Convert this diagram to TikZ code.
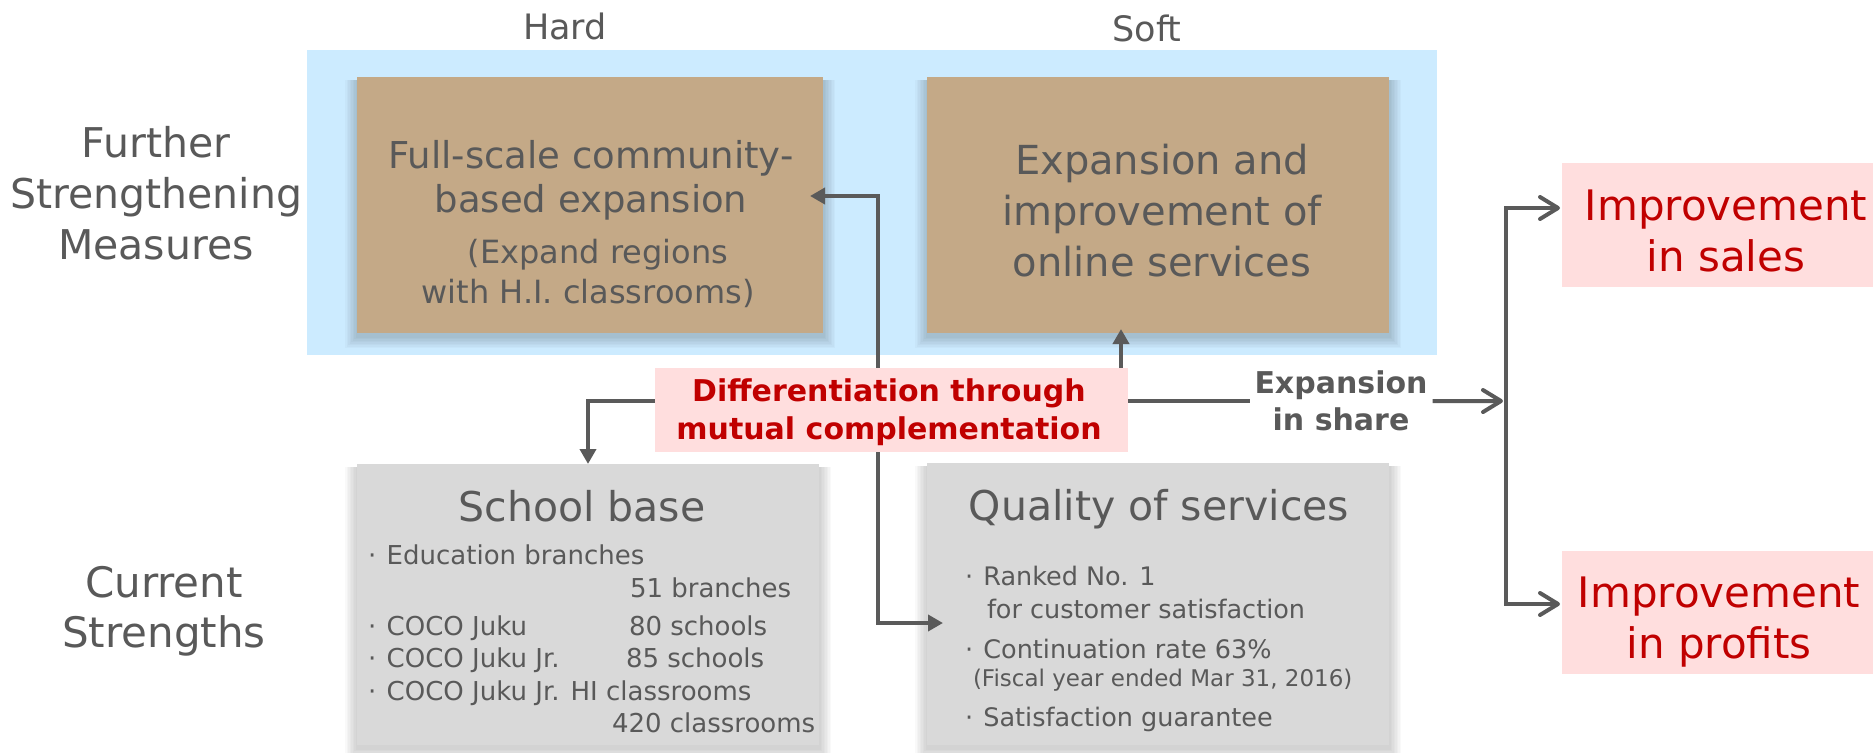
\documentclass[tikz,border=0pt]{standalone}
\usepackage{fontspec}
\setmainfont{DejaVu Sans}
\usetikzlibrary{arrows.meta}

\definecolor{txtgray}{HTML}{595959}
\definecolor{linegray}{HTML}{5A5A5A}
\definecolor{skyfill}{HTML}{CCEBFF}
\definecolor{tanfill}{HTML}{C4A987}
\definecolor{greyfill}{HTML}{D9D9D9}
\definecolor{pinkfill}{HTML}{FFDEDE}
\definecolor{darkred}{HTML}{C00000}

\pgfdeclarelayer{background}
\pgfdeclarelayer{shadow}
\pgfdeclarelayer{front}
\pgfsetlayers{background,shadow,main,front}

\newcommand{\fsz}[2]{\fontsize{#1}{#2}\selectfont}
\newcommand{\dotitem}{\makebox[0.72em][l]{·}}
% soft shadow under a panel, built from stacked translucent rectangles
\newcommand{\softshadow}[1]{%
  \foreach \k in {1,...,8}{%
    \fill[black,opacity=0.025] ([shift={(-1.5*\k,3+1.5*\k)}]#1.south west)
      rectangle ([shift={(1.5*\k,3)}]#1.north east);}}

\tikzset{
  panel/.style={rectangle, inner sep=0pt, outer sep=0pt},
  txt/.style={inner sep=0pt, outer sep=0pt, text=txtgray, align=center},
  conn/.style={draw=linegray, line width=4pt},
  tri/.tip={Triangle[length=15pt,width=16pt]},
  barb/.tip={Straight Barb[length=18pt,width=22pt,round]},
}

\begin{document}
\begin{tikzpicture}[x=1pt,y=-1pt]
\useasboundingbox (0,0) rectangle (1873,752);

% region of further measures
\begin{pgfonlayer}{background}
  \node[panel, fill=skyfill, minimum width=1130pt, minimum height=305pt] (measures) at (872,202.5) {};
\end{pgfonlayer}

% panels
\node[panel, fill=tanfill, minimum width=466pt, minimum height=256pt] (hard) at (590,205) {};
\node[panel, fill=tanfill, minimum width=462pt, minimum height=256pt] (soft) at (1158,205) {};
\node[panel, fill=greyfill, minimum width=462pt, minimum height=281pt] (school) at (588,604.5) {};
\node[panel, fill=greyfill, minimum width=462pt, minimum height=282pt] (quality) at (1158,604) {};
\node[panel, fill=pinkfill, minimum width=311pt, minimum height=124pt] (sales) at (1717.5,225) {};
\node[panel, fill=pinkfill, minimum width=311pt, minimum height=123pt] (profits) at (1717.5,612.5) {};

\begin{pgfonlayer}{shadow}
  \softshadow{hard}
  \softshadow{soft}
  \softshadow{school}
  \softshadow{quality}
\end{pgfonlayer}

% central label, drawn above the connectors that pass behind it
\begin{pgfonlayer}{front}
  \node[panel, fill=pinkfill, minimum width=473pt, minimum height=84pt] (diff) at (891.5,410) {};
  \node[txt, anchor=north, text=darkred, font=\bfseries\fsz{30}{38}] (difftext) at (889,379)
    {Differentiation through\\mutual complementation};
\end{pgfonlayer}

% column and row headings
\node[txt, font=\fsz{35}{42}, anchor=base] (hardlbl) at (565,40) {Hard};
\node[txt, font=\fsz{35}{42}, anchor=base] (softlbl) at (1147,42) {Soft};
\node[txt, font=\fsz{41}{51}, anchor=north] (further) at (156,126) {Further\\Strengthening\\Measures};
\node[txt, font=\fsz{42}{50}, anchor=north] (current) at (164,566) {Current\\Strengths};

% panel texts
\node[txt, font=\fsz{37}{44}, anchor=north] (hardtitle) at (591,140) {Full-scale community-\\based expansion};
\node[txt, font=\fsz{32}{40}, anchor=north] (hardsub) at (588,239) {\hspace*{20pt}(Expand regions\\with H.I. classrooms)};
\node[txt, font=\fsz{40}{51}, anchor=north] (softtitle) at (1162,144) {Expansion and\\improvement of\\online services};

\node[txt, font=\fsz{41}{48}, anchor=base] (schooltitle) at (582,521) {School base};
\node[txt, font=\fsz{26}{32}, anchor=base west] (sb1) at (368,564) {\dotitem Education branches};
\node[txt, font=\fsz{26}{32}, anchor=base west] (sb1n) at (630,597) {51 branches};
\node[txt, font=\fsz{26}{32}, anchor=base west] (sb2) at (368,635) {\dotitem COCO Juku};
\node[txt, font=\fsz{26}{32}, anchor=base west] (sb2n) at (629,635) {80 schools};
\node[txt, font=\fsz{26}{32}, anchor=base west] (sb3) at (368,667) {\dotitem COCO Juku Jr.};
\node[txt, font=\fsz{26}{32}, anchor=base west] (sb3n) at (626,667) {85 schools};
\node[txt, font=\fsz{26}{32}, anchor=base west] (sb4) at (368,700) {\dotitem COCO Juku Jr. HI classrooms};
\node[txt, font=\fsz{26}{32}, anchor=base west] (sb4n) at (612,732) {420 classrooms};

\node[txt, font=\fsz{41}{48}, anchor=base] (qualtitle) at (1159,520) {Quality of services};
\node[txt, font=\fsz{25.5}{31}, anchor=base west] (q1) at (965,585) {\dotitem Ranked No. 1};
\node[txt, font=\fsz{25.5}{31}, anchor=base west] (q1b) at (987,618) {for customer satisfaction};
\node[txt, font=\fsz{25.5}{31}, anchor=base west] (q2) at (965,658) {\dotitem Continuation rate 63\%};
\node[txt, font=\fsz{23}{28}, anchor=base west] (q2b) at (973,686) {(Fiscal year ended Mar 31, 2016)};
\node[txt, font=\fsz{25.5}{31}, anchor=base west] (q3) at (965,726) {\dotitem Satisfaction guarantee};

\node[txt, text=darkred, font=\fsz{42}{51}, anchor=north] (salestext) at (1726,189.4) {Improvement\\in sales};
\node[txt, text=darkred, font=\fsz{42}{51}, anchor=north] (profitstext) at (1719,576.4) {Improvement\\in profits};

\node[txt, font=\bfseries\fsz{30}{37}, anchor=north, inner xsep=5pt] (share) at (1341,371) {Expansion\\in share};

% connectors
\coordinate (jt) at (878,196);
\coordinate (jb) at (878,623);
\draw[conn, {tri}-{tri}, shorten <=-13pt, shorten >=-16pt]
  (hard.east |- jt) -- (jt) -- (jb) -- (quality.west |- jb);

\coordinate (su) at (1121,0);
\draw[conn, -{tri}, shorten >=-4pt] (diff.north -| su) -- (soft.south -| su);

\draw[conn, -{tri}] (diff.west |- share.west) -| (school.north);
\draw[conn] (diff.east |- share.west) -- (share.west);

\coordinate (busmid) at (1506,401);
\draw[conn, -{barb}, shorten >=3pt] (share.east) -- (busmid);
\coordinate (bt) at (1506,208);
\coordinate (bb) at (1506,604);
\draw[conn, {barb}-{barb}, shorten <=2pt, shorten >=2pt]
  (sales.west |- bt) -- (bt) -- (bb) -- (profits.west |- bb);

\end{tikzpicture}
\end{document}
